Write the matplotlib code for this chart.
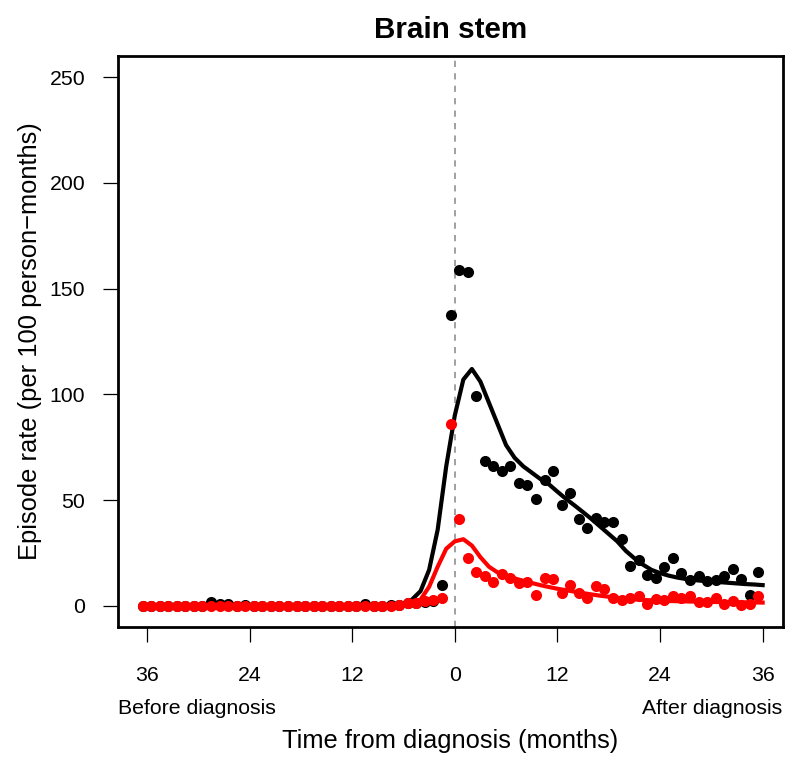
import numpy as np
import matplotlib
matplotlib.use("Agg")
import matplotlib.pyplot as plt

# ---- data ----
pt_months = np.arange(-36.5, 36.0, 1.0)  # 73 monthly points

black_pts = [0, 0, 0, 0, 0, 0, 0, 0, 2, 1, 1, 0, 0.5, 0, 0, 0, 0, 0, 0, 0, 0,
             0, 0, 0, 0, 0, 1, 0, 0, 0.5, 0.5, 1.5, 1.5, 2, 2.5, 10, 137.6,
             159, 158, 99, 68.5, 66, 64, 66, 58.2, 57.2, 50.6, 59.3, 63.6, 47.8,
             53.4, 41.1, 36.8, 41.6, 39.5, 39.5, 31.6, 18.8, 21.5, 14.6, 13.4,
             18.5, 22.6, 15.3, 12.3, 13.9, 11.9, 12.3, 13.9, 17.4, 12.7, 5.2, 15.8]

red_pts = [0, 0, 0, 0, 0, 0, 0, 0, 0, 0, 0, 0, 0, 0, 0, 0, 0, 0, 0, 0, 0,
           0, 0, 0, 0, 0, 0, 0, 0, 0, 0.5, 1.5, 1.5, 2.5, 3, 3.5, 86,
           41, 22.6, 15.8, 14.2, 11.5, 15, 13.1, 11, 11.5, 5.2, 13, 12.6, 6.3,
           10, 6, 3.9, 9.2, 8.2, 3.6, 2.8, 3.5, 4.5, 0.7, 3.2, 2.8, 4.7, 3.9,
           4.7, 1.6, 1.6, 3.6, 0.8, 2.4, 0.5, 0.8, 4.7]

line_months = np.arange(-36, 37, 1)  # 73 values
black_line = [0.3] * 30 + [1, 3, 7, 17, 36, 66, 90, 107, 112, 106, 96, 86, 76,
                           70, 66, 63, 60, 57.5, 54, 50.6, 47.5, 44.3, 41, 37.5,
                           34, 30.5, 26, 22.5, 19.5, 17, 15.5, 14.3, 13.4, 12.7,
                           12.2, 11.8, 11.5, 11.2, 10.9, 10.6, 10.3, 10.1, 9.8]
red_line = [0.1] * 31 + [0.8, 3, 9, 18.5, 27, 30.5, 31.5, 28.5, 23, 18.5, 15.8,
                         14, 13, 11.8, 10.8, 9.8, 8.9, 8.1, 7.4, 6.7, 6.0, 5.4,
                         4.8, 4.3, 3.8, 3.4, 3.1, 2.8, 2.6, 2.4, 2.3, 2.2, 2.1,
                         2.0, 1.9, 1.85, 1.8, 1.75, 1.7, 1.65, 1.6, 1.55]

x_ticks = [-36, -24, -12, 0, 12, 24, 36]
x_tick_labels = ["36", "24", "12", "0", "12", "24", "36"]
y_ticks = [0, 50, 100, 150, 200, 250]

title = "Brain stem"
xlabel = "Time from diagnosis (months)"
ylabel = "Episode rate (per 100 person\u2212months)"
left_note = "Before diagnosis"
right_note = "After diagnosis"

# ---- figure ----
plt.rcParams['font.family'] = ['Liberation Sans', 'DejaVu Sans']
W, H = 800, 767
fig = plt.figure(figsize=(W / 100, H / 100), dpi=100)
ax = fig.add_axes([118 / W, 1 - 627 / H, (783 - 118) / W, (627 - 56) / H])

ax.axvline(0, color='#A0A0A0', lw=1.4, dashes=(3.2, 3.2), zorder=1)
ax.plot(pt_months, black_pts, 'o', color='black', ms=8, mec='none', zorder=2)
ax.plot(line_months, black_line, '-', color='black', lw=3, zorder=3)
ax.plot(pt_months, red_pts, 'o', color='#FF0000', ms=8, mec='none', zorder=4)
ax.plot(line_months, red_line, '-', color='#FF0000', lw=3, zorder=5)

ax.set_xlim(-39.38, 38.38)
ax.set_ylim(-10, 260)
ax.set_xticks(x_ticks)
ax.set_xticklabels(x_tick_labels)
ax.set_yticks(y_ticks)
for s in ax.spines.values():
    s.set_linewidth(2.0)
ax.tick_params(axis='both', direction='out', length=11, width=0.9,
               labelsize=15.3, colors='black')
ax.tick_params(axis='x', pad=17)
ax.tick_params(axis='y', pad=12.5)

fig.text(450.5 / W, 1 - 38.5 / H, title, ha='center', va='baseline',
         fontsize=21.3, fontweight='bold')
fig.text(118 / W, 1 - 714 / H, left_note, ha='left', va='baseline', fontsize=15.3)
fig.text(782 / W, 1 - 714 / H, right_note, ha='right', va='baseline', fontsize=15.3)
fig.text(450.5 / W, 1 - 748 / H, xlabel, ha='center', va='baseline', fontsize=18.4)
fig.text(30 / W, 1 - 341 / H, ylabel, ha='center', va='center', rotation=90,
         fontsize=18.4)

fig.savefig("out.png", dpi=100)
